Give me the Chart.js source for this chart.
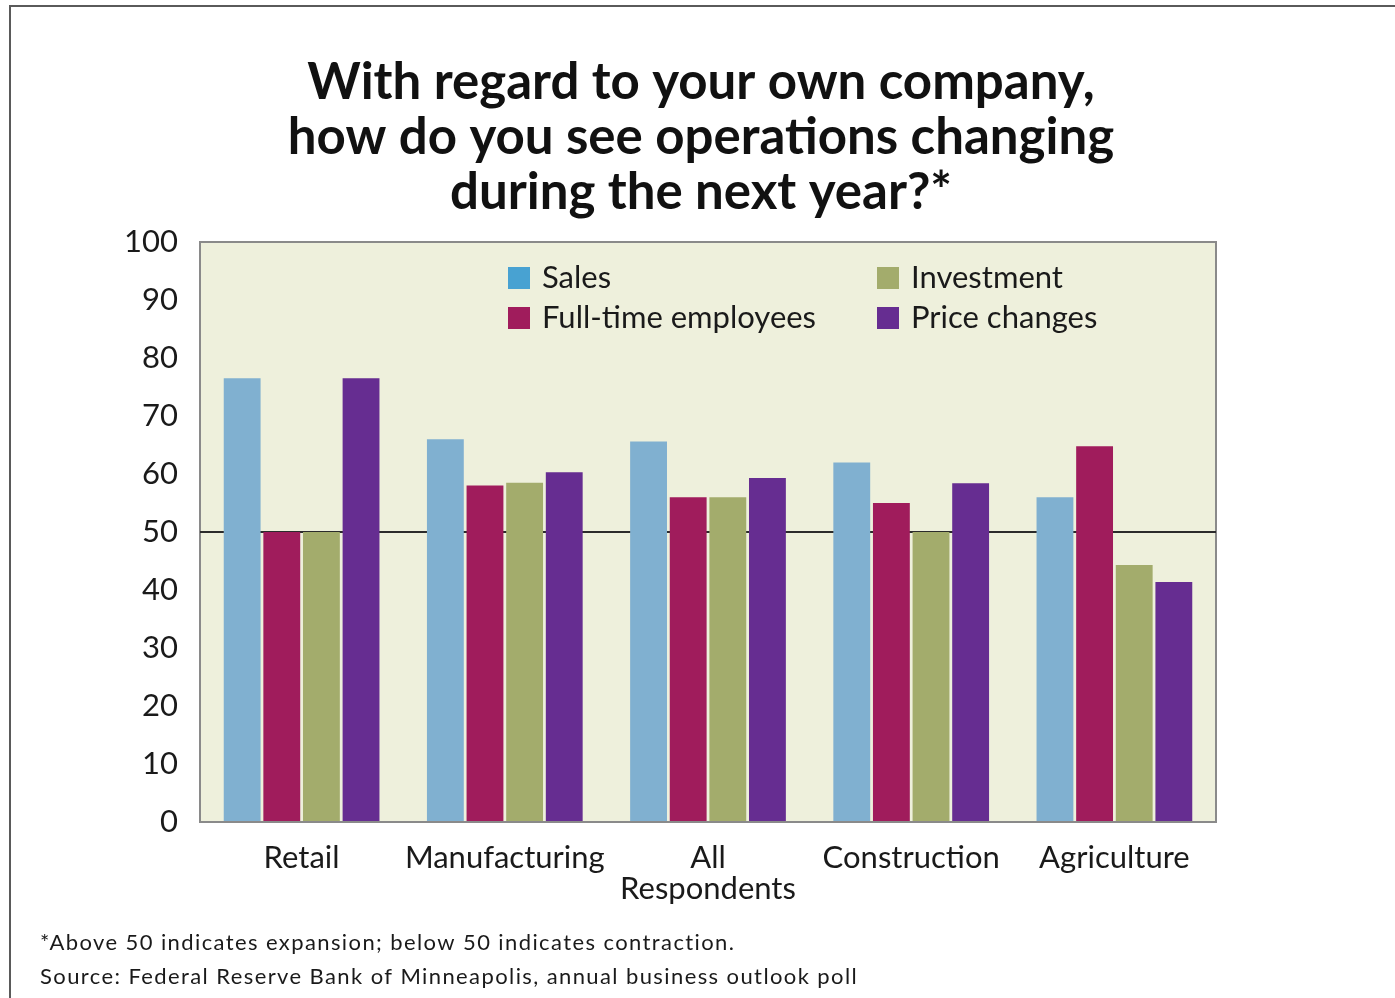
<!DOCTYPE html>
<html>
<head>
<meta charset="utf-8">
<title>Business outlook poll</title>
<script src="https://cdn.jsdelivr.net/npm/chart.js@4.4.1/dist/chart.umd.min.js"></script>
<style>
  html, body { margin: 0; padding: 0; background: #fff; }
  #wrap { position: relative; width: 1395px; height: 998px; }
</style>
</head>
<body>
<div id="wrap"><canvas id="chart1" width="1395" height="998"></canvas></div>
<script>
// survey results, index where 50 = no change
var categories = ['Retail', 'Manufacturing', ['All', 'Respondents'], 'Construction', 'Agriculture'];
var sales        = [76.5, 66.0, 65.6, 62.0, 56.0];
var fullTime     = [50.0, 58.0, 56.0, 55.0, 64.8];
var investment   = [50.0, 58.5, 56.0, 50.0, 44.3];
var priceChanges = [76.5, 60.3, 59.3, 58.4, 41.4];

var seriesNames  = ['Sales', 'Full-time employees', 'Investment', 'Price changes'];
var barColors    = ['#80b0d0', '#a01c5c', '#a3ac6c', '#662d91'];
var swatchColors = ['#48a2d2', '#a01c5c', '#a3ac6c', '#662d91'];

var yMin = 0, yMax = 100, yStep = 10, midLine = 50;

var titleLines = ['With regard to your own company,', 'how do you see operations changing', 'during the next year?*'];
var notes = ['*Above 50 indicates expansion; below 50 indicates contraction.',
             'Source: Federal Reserve Bank of Minneapolis, annual business outlook poll'];

var FONT = 'Lato, "DejaVu Sans", sans-serif';

// plot background, frame, page border, title, legend and notes
var decor = {
    id: 'decor',
    beforeDraw: function(chart) {
        var c = chart.ctx, a = chart.chartArea;
        c.save();
        c.fillStyle = '#eef0dc';
        c.fillRect(a.left, a.top, a.right - a.left, a.bottom - a.top);
        c.strokeStyle = '#8a8a8a';
        c.lineWidth = 2;
        c.strokeRect(a.left, a.top, a.right - a.left, a.bottom - a.top);
        // page border on left and top
        c.strokeStyle = '#5a5a5a';
        c.beginPath();
        c.moveTo(10, chart.height);
        c.lineTo(10, 6);
        c.lineTo(chart.width, 6);
        c.stroke();

        // title, centred on the page
        c.font = 'bold 51px ' + FONT;
        c.fillStyle = '#111';
        c.textAlign = 'center';
        c.textBaseline = 'alphabetic';
        titleLines.forEach(function(t, i) {
            c.fillText(t, 701, 99 + i * 55);
        });
        c.restore();
    },
    afterDraw: function(chart) {
        var c = chart.ctx, a = chart.chartArea;
        c.save();
        // two-column legend inside the plot
        var cols = [a.left + 308, a.left + 677];
        var rows = [a.top + 36, a.top + 76];
        c.font = '31px ' + FONT;
        c.textBaseline = 'middle';
        c.textAlign = 'left';
        chart.data.datasets.forEach(function(ds, i) {
            var x = cols[Math.floor(i / 2)], y = rows[i % 2];
            c.fillStyle = swatchColors[i];
            c.fillRect(x, y - 11, 22, 22);
            c.fillStyle = '#1a1a1a';
            c.fillText(ds.label, x + 34, y);
        });
        // notes under the chart
        c.font = '22px ' + FONT;
        c.letterSpacing = '1.4px';
        c.fillStyle = '#1a1a1a';
        c.fillText(notes[0], 40, 943);
        c.fillText(notes[1], 40, 977);
        c.restore();
    }
};

var ctx = document.getElementById('chart1').getContext('2d');
var chart1 = new Chart(ctx, {
    type: 'bar',
    data: {
        labels: categories,
        datasets: [
            { label: seriesNames[0], data: sales,        backgroundColor: barColors[0] },
            { label: seriesNames[1], data: fullTime,     backgroundColor: barColors[1] },
            { label: seriesNames[2], data: investment,   backgroundColor: barColors[2] },
            { label: seriesNames[3], data: priceChanges, backgroundColor: barColors[3] }
        ]
    },
    options: {
        responsive: false,
        animation: false,
        layout: { padding: { top: 242, right: 179, bottom: 0, left: 0 } },
        datasets: { bar: { categoryPercentage: 0.78, barPercentage: 0.93 } },
        plugins: {
            legend: { display: false },
            tooltip: { enabled: false },
            title: { display: false }
        },
        scales: {
            x: {
                grid: { display: false },
                border: { display: false },
                ticks: { color: '#1a1a1a', padding: 12, font: { family: FONT, size: 31, lineHeight: 1.0 }, maxRotation: 0 },
                afterFit: function(s) { s.height = 176; }
            },
            y: {
                min: yMin, max: yMax,
                z: 1,
                border: { display: false },
                grid: {
                    drawTicks: false,
                    lineWidth: 2,
                    color: function(c) { return c.tick && c.tick.value === midLine ? '#2b2b2b' : 'rgba(0,0,0,0)'; }
                },
                ticks: { stepSize: yStep, color: '#1a1a1a', padding: 22, font: { family: FONT, size: 31 } },
                afterFit: function(s) { s.width = 200; }
            }
        }
    },
    plugins: [decor]
});
</script>
</body>
</html>
